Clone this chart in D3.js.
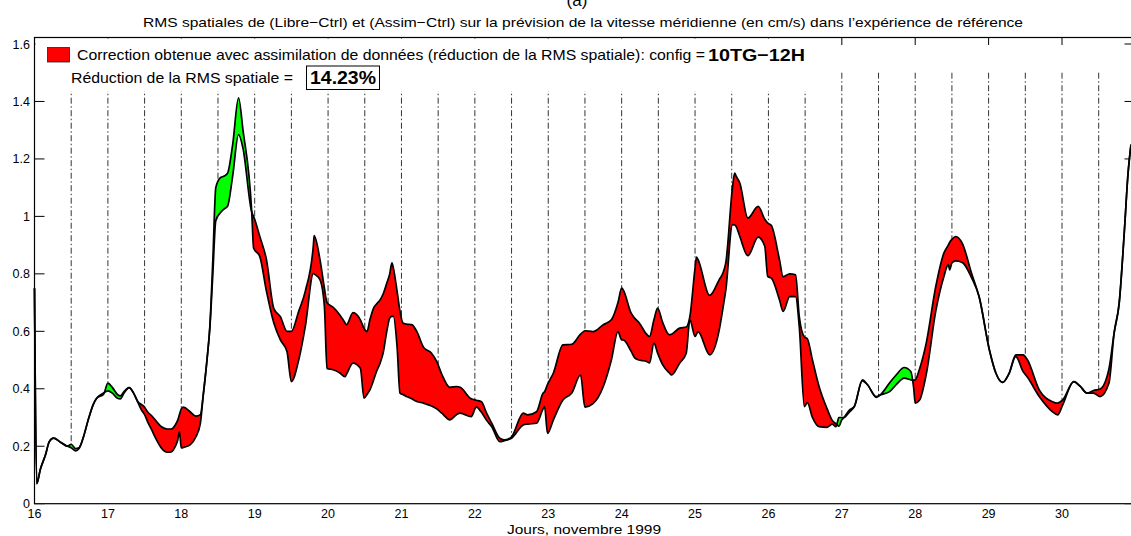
<!DOCTYPE html>
<html><head><meta charset="utf-8">
<script src="https://cdn.jsdelivr.net/npm/d3@7"></script>
<style>body{margin:0;background:#fff;} svg{display:block;font-family:"Liberation Sans",Arial,Helvetica,sans-serif;}</style>
</head><body><svg id="c" width="1131" height="536"></svg>
<script>
const days  = [16.00,16.03,16.08,16.15,16.20,16.26,16.35,16.45,16.50,16.56,16.61,16.67,16.73,16.80,16.85,16.94,17.00,17.06,17.13,17.17,17.22,17.29,17.35,17.41,17.46,17.50,17.54,17.60,17.65,17.73,17.81,17.86,17.92,17.95,17.975,18.00,18.03,18.12,18.20,18.26,18.30,18.35,18.39,18.43,18.47,18.53,18.58,18.63,18.70,18.78,18.84,18.96,18.985,19.07,19.16,19.26,19.35,19.44,19.50,19.60,19.69,19.80,19.81,19.89,19.95,19.985,20.07,20.16,20.23,20.25,20.34,20.44,20.49,20.53,20.57,20.62,20.66,20.71,20.75,20.80,20.84,20.87,20.89,20.94,20.98,21.02,21.07,21.14,21.21,21.30,21.41,21.48,21.55,21.66,21.75,21.80,21.95,22.02,22.09,22.16,22.23,22.34,22.41,22.50,22.66,22.72,22.84,22.93,22.95,22.99,23.07,23.20,23.32,23.44,23.50,23.61,23.75,23.86,23.95,24.00,24.02,24.13,24.18,24.24,24.34,24.38,24.44,24.49,24.56,24.65,24.68,24.79,24.88,24.93,25.00,25.02,25.04,25.20,25.33,25.38,25.42,25.51,25.54,25.56,25.61,25.72,25.86,25.95,25.99,26.04,26.15,26.20,26.29,26.37,26.42,26.49,26.53,26.60,26.69,26.80,26.87,26.92,26.96,27.00,27.03,27.10,27.17,27.28,27.35,27.47,27.53,27.65,27.74,27.85,27.94,27.98,28.00,28.06,28.15,28.28,28.39,28.45,28.47,28.50,28.55,28.64,28.77,28.87,29.01,29.10,29.19,29.28,29.37,29.47,29.53,29.69,29.87,29.94,30.01,30.16,30.25,30.34,30.43,30.52,30.64,30.71,30.78,30.85,30.90,30.94];
const libre = [0.75,0.07,0.12,0.17,0.215,0.228,0.215,0.200,0.195,0.184,0.193,0.235,0.29,0.345,0.368,0.385,0.393,0.385,0.367,0.365,0.385,0.404,0.385,0.355,0.345,0.336,0.32,0.305,0.29,0.268,0.26,0.26,0.275,0.29,0.31,0.33,0.336,0.32,0.305,0.31,0.38,0.5,0.615,0.8,0.985,1.012,1.025,1.035,1.14,1.285,1.238,1.015,1.0,0.93,0.85,0.68,0.651,0.60,0.60,0.67,0.74,0.90,0.933,0.849,0.75,0.70,0.683,0.657,0.63,0.623,0.665,0.64,0.61,0.599,0.64,0.681,0.695,0.71,0.73,0.768,0.80,0.838,0.82,0.74,0.67,0.629,0.625,0.623,0.599,0.545,0.524,0.495,0.45,0.405,0.408,0.405,0.365,0.36,0.355,0.315,0.28,0.228,0.222,0.233,0.315,0.309,0.32,0.385,0.39,0.415,0.455,0.553,0.555,0.59,0.602,0.599,0.623,0.64,0.70,0.75,0.745,0.663,0.645,0.629,0.59,0.582,0.64,0.681,0.63,0.588,0.59,0.611,0.615,0.652,0.82,0.858,0.85,0.725,0.78,0.803,0.84,1.10,1.151,1.14,1.116,0.994,1.035,0.99,0.977,0.968,0.85,0.79,0.80,0.797,0.652,0.58,0.574,0.50,0.408,0.33,0.29,0.278,0.27,0.292,0.30,0.325,0.338,0.431,0.414,0.373,0.379,0.39,0.414,0.437,0.431,0.43,0.431,0.47,0.559,0.756,0.872,0.90,0.91,0.92,0.93,0.907,0.80,0.721,0.536,0.454,0.422,0.454,0.518,0.518,0.50,0.396,0.355,0.35,0.361,0.425,0.408,0.385,0.394,0.399,0.47,0.594,0.70,0.95,1.15,1.25];
const assim = [0.75,0.07,0.12,0.17,0.215,0.228,0.215,0.200,0.207,0.192,0.196,0.235,0.29,0.345,0.368,0.380,0.420,0.405,0.380,0.375,0.390,0.404,0.385,0.352,0.325,0.31,0.286,0.255,0.228,0.193,0.179,0.18,0.2,0.22,0.25,0.194,0.196,0.205,0.233,0.28,0.38,0.5,0.62,0.85,1.1,1.134,1.14,1.15,1.25,1.413,1.302,1.015,0.89,0.86,0.74,0.63,0.57,0.53,0.425,0.50,0.617,0.802,0.80,0.779,0.686,0.471,0.466,0.455,0.442,0.45,0.489,0.471,0.367,0.38,0.396,0.43,0.46,0.49,0.524,0.60,0.646,0.652,0.652,0.547,0.385,0.38,0.373,0.365,0.356,0.35,0.34,0.33,0.315,0.292,0.31,0.315,0.303,0.336,0.318,0.29,0.268,0.216,0.22,0.228,0.274,0.277,0.28,0.33,0.338,0.245,0.292,0.361,0.385,0.448,0.336,0.348,0.408,0.50,0.599,0.57,0.57,0.53,0.507,0.50,0.495,0.49,0.559,0.524,0.483,0.455,0.448,0.489,0.524,0.64,0.582,0.59,0.599,0.518,0.605,0.68,0.745,0.971,0.97,0.965,0.93,0.863,0.928,0.896,0.791,0.785,0.71,0.669,0.721,0.721,0.617,0.338,0.352,0.30,0.268,0.266,0.277,0.268,0.30,0.30,0.30,0.318,0.338,0.427,0.414,0.370,0.38,0.42,0.448,0.474,0.46,0.40,0.35,0.361,0.45,0.67,0.79,0.832,0.814,0.838,0.845,0.84,0.785,0.721,0.536,0.454,0.422,0.454,0.512,0.46,0.44,0.373,0.32,0.309,0.344,0.425,0.408,0.385,0.385,0.373,0.42,0.594,0.70,0.95,1.15,1.25];
const xTicks = [16,17,18,19,20,21,22,23,24,25,26,27,28,29,30];
const yTicks = [0,0.2,0.4,0.6,0.8,1,1.2,1.4,1.6];
const guideDays = [16.5,17,17.5,18,18.5,19,19.5,20,20.5,21,21.5,22,22.5,23,23.5,24,24.5,25,25.5,26,26.5,27,27.5,28,28.5,29,29.5,30,30.5];
const guideTop = 1.5;

if (days.length!==libre.length || days.length!==assim.length) throw new Error("len "+days.length+" "+libre.length+" "+assim.length);

const svg = d3.select("#c");
const x = d3.scaleLinear().domain([16, 30]).range([34.5, 1062]);
const y = d3.scaleLinear().domain([0, 1.6]).range([503.7, 44]);
const X0 = x(16), X1 = 1132.5, Y0 = 37.5, YB = y(0);
const curve = d3.curveMonotoneX;

const pts = days.map((t,i)=>({t, a: libre[i], b: assim[i]}));
const defs = svg.append("defs");

// guides (dash-dot)
svg.append("g").selectAll("line").data(guideDays).join("line")
  .attr("x1", d=>x(d)).attr("x2", d=>x(d))
  .attr("y1", y(0)).attr("y2", y(guideTop))
  .attr("stroke", "#333").attr("stroke-width", 1)
  .attr("stroke-dasharray", "6,2.5,1.5,2.5");

// ticks
const tg = svg.append("g").attr("stroke","#000").attr("stroke-width",1);
yTicks.forEach(v=>{
  tg.append("line").attr("x1",X0).attr("x2",X0+10).attr("y1",y(v)).attr("y2",y(v));
  tg.append("line").attr("x1",X1).attr("x2",X1-8).attr("y1",y(v)).attr("y2",y(v));
});
xTicks.forEach(v=>{
  tg.append("line").attr("x1",x(v)).attr("x2",x(v)).attr("y1",Y0).attr("y2",Y0+7.5);
  tg.append("line").attr("x1",x(v)).attr("x2",x(v)).attr("y1",YB).attr("y2",YB-7.5);
});

const below = key => d3.area().curve(curve).x(d=>x(d.t)).y0(y(0)).y1(d=>y(d[key]));
const above = key => d3.area().curve(curve).x(d=>x(d.t)).y0(0).y1(d=>y(d[key]));

// white mask under both curves
svg.append("path").datum(pts).attr("d", below("a")).attr("fill","#fff");
svg.append("path").datum(pts).attr("d", below("b")).attr("fill","#fff");

// clip paths
defs.append("clipPath").attr("id","aboveB").append("path").datum(pts).attr("d", above("b"));
defs.append("clipPath").attr("id","aboveA").append("path").datum(pts).attr("d", above("a"));

// red: libre above assim ; green: assim above libre
svg.append("path").datum(pts).attr("d", below("a")).attr("fill","#ff0000").attr("clip-path","url(#aboveB)");
svg.append("path").datum(pts).attr("d", below("b")).attr("fill","#00ff00").attr("clip-path","url(#aboveA)");

// curves
const line = key => d3.line().curve(curve).x(d=>x(d.t)).y(d=>y(d[key]));
["a","b"].forEach(k=>svg.append("path").datum(pts).attr("d", line(k)).attr("fill","none")
  .attr("stroke","#000").attr("stroke-width",1.7).attr("stroke-linejoin","round"));

// legend background
svg.append("rect").attr("x", X0+1).attr("y", Y0+1).attr("width", 812-X0).attr("height", 91-Y0-1).attr("fill","#fff");

// frame
svg.append("rect").attr("x",X0).attr("y",Y0).attr("width",X1-X0).attr("height",YB-Y0)
  .attr("fill","none").attr("stroke","#000").attr("stroke-width",1.2);

// tick labels
svg.append("g").selectAll("text").data(yTicks).join("text")
  .attr("x", 30).attr("y", d=>y(d)+4.5).attr("text-anchor","end")
  .attr("font-size", 12.5).text(d=>d3.format("~g")(d));
svg.append("g").selectAll("text").data(xTicks).join("text")
  .attr("x", d=>x(d)).attr("y", 518).attr("text-anchor","middle")
  .attr("font-size", 12.5).text(d=>d);

function txt(str, x0, yb, size, width, bold){
  const t = svg.append("text").attr("x",x0).attr("y",yb).attr("font-size",size).text(str);
  if (bold) t.attr("font-weight","bold");
  if (width) t.attr("textLength",width).attr("lengthAdjust","spacingAndGlyphs");
  return t;
}

// titles
svg.append("text").attr("x",577).attr("y",6).attr("text-anchor","middle").attr("font-size",17).text("(a)");
txt("RMS spatiales de (Libre\u2212Ctrl) et (Assim\u2212Ctrl) sur la prévision de la vitesse méridienne (en cm/s) dans l\u2019expérience de référence", 143, 27, 13.5, 880);
txt("Jours, novembre 1999", 507, 534, 13.5, 154);

// legend
svg.append("rect").attr("x",47.5).attr("y",47.5).attr("width",22).attr("height",14.5).attr("fill","#ff0000").attr("stroke","#222").attr("stroke-width",0.8);
txt("Correction obtenue avec assimilation de données (réduction de la RMS spatiale): config =", 77, 60, 15, 628);
txt("10TG\u221212H", 708, 60.5, 17, 97, true);
txt("Réduction de la RMS spatiale =", 71, 83, 15, 222);
svg.append("rect").attr("x",306.5).attr("y",66).attr("width",73).attr("height",23.5).attr("fill","#fff").attr("stroke","#000").attr("stroke-width",1);
txt("14.23%", 310, 84, 18, 66, true);
</script></body></html>
